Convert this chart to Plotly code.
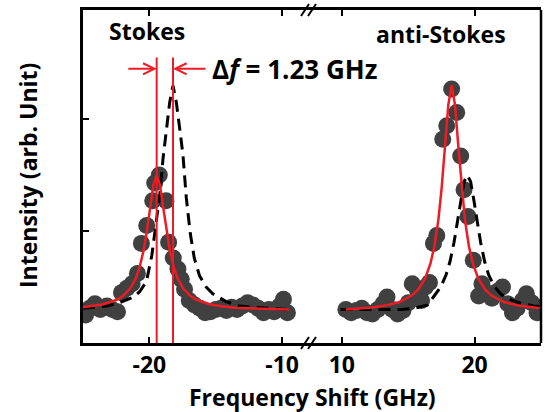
import plotly.graph_objects as go

# ---- measured Brillouin spectrum (frequency shift in GHz, intensity in arb. units)
stokes_freq = [-24.8, -24.5, -24.1, -23.7, -23.2, -22.8, -22.4, -22.1, -21.7, -21.3,
               -20.9, -20.6, -20.2, -19.75, -19.6, -19.25, -18.75, -18.55, -18.2, -17.85,
               -17.6, -17.35, -17.0, -16.6, -16.2, -15.8, -15.4, -15.0, -14.6, -14.2,
               -13.8, -13.4, -13.0, -12.6, -12.2, -11.8, -11.4, -11.0, -10.6, -10.2,
               -9.9, -9.6]
stokes_int = [0.25, 0.31, 0.35, 0.30, 0.33, 0.30, 0.28, 0.45, 0.49, 0.53,
              0.62, 0.89, 1.05, 1.27, 1.43, 1.50, 1.27, 0.90, 0.76, 0.66,
              0.57, 0.48, 0.38, 0.34, 0.31, 0.27, 0.28, 0.30, 0.31, 0.29,
              0.32, 0.30, 0.33, 0.36, 0.34, 0.31, 0.27, 0.30, 0.28, 0.33,
              0.39, 0.27]

anti_freq = [10.3, 10.7, 11.1, 11.5, 11.9, 12.3, 12.7, 13.1, 13.4, 13.8,
             14.2, 14.6, 15.0, 15.3, 15.7, 16.0, 16.3, 16.6, 16.9, 17.15,
             17.6, 17.9, 18.27, 18.65, 18.95, 19.2, 19.5, 19.9, 20.3, 20.55,
             20.9, 21.3, 21.7, 22.1, 22.5, 22.85, 23.2, 23.6, 23.9, 24.3,
             24.7, 25.0]
anti_int = [0.30, 0.27, 0.29, 0.31, 0.27, 0.26, 0.30, 0.35, 0.41, 0.30,
            0.26, 0.29, 0.36, 0.53, 0.47, 0.38, 0.50, 0.54, 0.89, 0.96,
            1.82, 1.94, 2.27, 2.06, 1.67, 1.37, 1.13, 0.74, 0.42, 0.53,
            0.45, 0.40, 0.46, 0.50, 0.35, 0.27, 0.31, 0.38, 0.44, 0.36,
            0.27, 0.32]

# ---- Lorentzian fits (solid red)
stokes_fit_freq = [-25.0, -23.45, -22.45, -21.95, -21.45, -21.05, -20.75, -20.45, -20.2, -19.95,
                   -19.7, -19.45, -19.2, -18.95, -18.7, -18.45, -18.15, -17.85, -17.45, -16.95,
                   -16.45, -15.45, -14.45, -13.45, -11.45, -9.5]
stokes_fit_int = [0.32, 0.346, 0.386, 0.423, 0.486, 0.57, 0.67, 0.82, 0.99, 1.205,
                  1.41, 1.50, 1.41, 1.205, 0.99, 0.82, 0.67, 0.57, 0.486, 0.423,
                  0.386, 0.346, 0.326, 0.315, 0.305, 0.30]

anti_fit_freq = [10.3, 11.27, 12.27, 13.27, 14.27, 15.27, 15.77, 16.27, 16.67, 16.97,
                 17.27, 17.52, 17.77, 18.02, 18.27, 18.52, 18.77, 19.02, 19.27, 19.57,
                 19.87, 20.27, 20.77, 21.27, 22.27, 23.27, 24.27, 25.0]
anti_fit_int = [0.30, 0.308, 0.318, 0.334, 0.364, 0.424, 0.48, 0.577, 0.708, 0.865,
                1.10, 1.39, 1.76, 2.13, 2.30, 2.13, 1.76, 1.39, 1.10, 0.865,
                0.708, 0.577, 0.48, 0.424, 0.364, 0.334, 0.318, 0.31]

# ---- mirrored partner peaks (dashed black)
stokes_ref_freq = [-25.0, -24.22, -23.22, -22.22, -21.22, -20.72, -20.22, -19.82, -19.52, -19.22,
                   -18.97, -18.72, -18.47, -18.22, -17.97, -17.72, -17.47, -17.22, -16.92, -16.62,
                   -16.22, -15.72, -15.22, -14.22, -13.22, -12.22, -11.22, -10.22, -9.6]
stokes_ref_int = [0.31, 0.32, 0.33, 0.36, 0.41, 0.46, 0.55, 0.78, 1.05, 1.32,
                  1.65, 1.90, 2.15, 2.30, 2.15, 1.92, 1.68, 1.30, 0.98, 0.76,
                  0.60, 0.50, 0.44, 0.37, 0.33, 0.32, 0.31, 0.30, 0.30]

anti_ref_freq = [9.9, 11.45, 13.45, 14.45, 15.45, 16.45, 16.95, 17.45, 17.85, 18.15,
                 18.45, 18.7, 18.95, 19.2, 19.45, 19.7, 19.95, 20.2, 20.45, 20.75,
                 21.05, 21.45, 21.95, 22.45, 23.45, 24.45, 25.0]
anti_ref_int = [0.30, 0.30, 0.30, 0.30, 0.31, 0.34, 0.42, 0.50, 0.61, 0.73,
                0.90, 1.07, 1.27, 1.44, 1.50, 1.44, 1.27, 1.07, 0.90, 0.73,
                0.61, 0.51, 0.44, 0.40, 0.355, 0.33, 0.325]

# ---- peak separation marker
stokes_peak = -19.45
delta_f = 1.23

left_ticks = [-20, -10]
right_ticks = [10, 20]
left_range = [-25, -7.75]
right_range = [7.75, 25]
y_range = [0, 2.975]

DOT = "#404040"
RED = "#ed1c24"
FONT = "Open Sans"

fig = go.Figure()

# data points
for fx, fy, ax in [(stokes_freq, stokes_int, "x"), (anti_freq, anti_int, "x2")]:
    fig.add_trace(go.Scatter(x=fx, y=fy, xaxis=ax, yaxis="y", mode="markers",
                             marker=dict(size=17, color=DOT, line=dict(width=0)),
                             cliponaxis=True, showlegend=False))

# dashed mirrored curves
for fx, fy, ax in [(stokes_ref_freq, stokes_ref_int, "x"), (anti_ref_freq, anti_ref_int, "x2")]:
    fig.add_trace(go.Scatter(x=fx, y=fy, xaxis=ax, yaxis="y", mode="lines",
                             line=dict(color="black", width=3, dash="12px,7px"),
                             showlegend=False))

# red fits
for fx, fy, ax in [(stokes_fit_freq, stokes_fit_int, "x"), (anti_fit_freq, anti_fit_int, "x2")]:
    fig.add_trace(go.Scatter(x=fx, y=fy, xaxis=ax, yaxis="y", mode="lines",
                             line=dict(color=RED, width=2.5), showlegend=False))

# vertical markers at the two peak positions
line_top = 2.55
for xv in [stokes_peak, stokes_peak + delta_f]:
    fig.add_trace(go.Scatter(x=[xv, xv], y=[0, line_top], xaxis="x", yaxis="y",
                             mode="lines", line=dict(color=RED, width=2),
                             showlegend=False))

tick_font = dict(family=FONT, size=23, color="black", weight="bold")
axis_common = dict(showline=True, linewidth=2.5, linecolor="black", mirror="ticks",
                   ticks="inside", ticklen=6, tickwidth=2, tickcolor="black",
                   showgrid=False, zeroline=False, tickfont=tick_font)

fig.update_layout(
    width=545, height=412,
    margin=dict(l=83, r=4, t=10, b=69),
    paper_bgcolor="white", plot_bgcolor="white",
    xaxis=dict(domain=[0, 0.5], range=left_range, tickvals=left_ticks,
               ticktext=[f"-{abs(t)}" for t in left_ticks], anchor="y", **axis_common),
    xaxis2=dict(domain=[0.5, 1], range=right_range, tickvals=right_ticks,
                ticktext=[str(t) for t in right_ticks], anchor="y", **axis_common),
    yaxis=dict(range=y_range, tickvals=[1, 2], showticklabels=False,
               showline=True, linewidth=2.5, linecolor="black",
               ticks="inside", ticklen=6, tickwidth=2, tickcolor="black",
               showgrid=False, zeroline=False, anchor="x"),
)

# right-hand frame edge
fig.add_shape(type="line", xref="paper", yref="paper", x0=1, x1=1, y0=0, y1=1,
              line=dict(color="black", width=2.5))

# axis-break marks on bottom and top
for yb in [0, 1]:
    for off in [-7, 0]:
        fig.add_shape(type="line", xref="paper", yref="paper",
                      xsizemode="pixel", xanchor=0.5, x0=off - 4, x1=off + 4,
                      ysizemode="pixel", yanchor=yb, y0=-6, y1=6,
                      line=dict(color="black", width=2))

# arrows pointing at the two peak lines
arrow_y = 2.45
for head, tail in [(stokes_peak, -21.7), (stokes_peak + delta_f, -15.66)]:
    fig.add_annotation(x=head, y=arrow_y, ax=tail, ay=arrow_y, xref="x", yref="y",
                       axref="x", ayref="y", text="", showarrow=True,
                       arrowhead=5, arrowsize=1.1, arrowwidth=2, arrowcolor=RED,
                       standoff=0, startstandoff=0)

bold = dict(family=FONT, size=23, color="black")
fig.add_annotation(text=f"<b>Δ<i>f</i> = {delta_f} GHz</b>", xref="paper", yref="paper",
                   x=0.277, y=0.823, xanchor="left", yanchor="middle",
                   showarrow=False, font=dict(family=FONT, size=26, color="black"))
fig.add_annotation(text="<b>Stokes</b>", xref="paper", yref="paper",
                   x=0.14, y=0.937, xanchor="center", yanchor="middle",
                   showarrow=False, font=bold)
fig.add_annotation(text="<b>anti-Stokes</b>", xref="paper", yref="paper",
                   x=0.782, y=0.928, xanchor="center", yanchor="middle",
                   showarrow=False, font=bold)
fig.add_annotation(text="<b>Frequency Shift (GHz)</b>", xref="paper", yref="paper",
                   x=0.502, y=-0.163, xanchor="center", yanchor="middle",
                   showarrow=False, font=bold)
fig.add_annotation(text="<b>Intensity (arb. Unit)</b>", xref="paper", yref="paper",
                   x=-0.12, y=0.5015, xanchor="center", yanchor="middle",
                   textangle=-90, showarrow=False, font=bold)

fig.write_html("out.html")
